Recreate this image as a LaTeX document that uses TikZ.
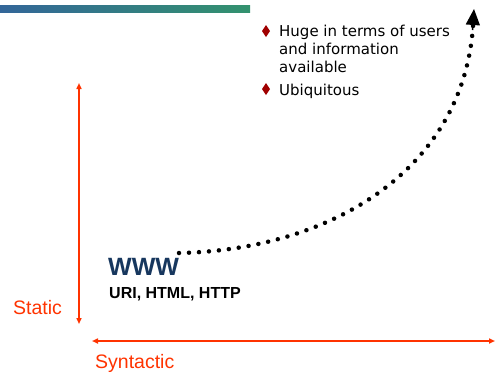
\documentclass[tikz,border=0pt]{standalone}
\usepackage{fontspec}
\setmainfont{Liberation Sans}
\newfontfamily\verd{DejaVu Sans}
\usetikzlibrary{arrows.meta}
\definecolor{axisred}{RGB}{255,51,0}
\definecolor{wwwblue}{RGB}{23,55,94}
\definecolor{bulletred}{RGB}{160,0,0}
\definecolor{barblue}{RGB}{51,102,153}
\definecolor{bargreen}{RGB}{51,146,110}
\tikzset{
  axisline/.style={draw=axisred, line width=1.5pt,
    {Triangle[length=6pt,width=5pt]}-{Triangle[length=6pt,width=5pt]}},
  axislabel/.style={anchor=base west, inner sep=0pt, text=axisred,
    font=\fontsize{19.5}{23}\selectfont},
  bullettext/.style={anchor=base west, inner sep=0pt,
    font=\verd\fontsize{15}{18}\selectfont},
  bulletmark/.style={fill=bulletred},
  dotpath/.style={line width=4.5pt, line cap=round, dash pattern=on 0pt off 10pt,
    shorten >=14pt},
  tiparrow/.style={line width=1.5pt, -{Triangle[length=16pt,width=14pt]}}
}
\begin{document}
\begin{tikzpicture}[x=1pt,y=-1pt]
\useasboundingbox (0,0) rectangle (496,373);

% title bar
\shade[left color=barblue, right color=bargreen] (0,5) rectangle (250,12);

% axes
\coordinate (vtop) at (79,83);
\coordinate (vbot) at (79,324);
\coordinate (hleft) at (92,341);
\coordinate (hright) at (495,341);
\draw[axisline] (vtop) -- (vbot);
\draw[axisline] (hleft) -- (hright);
\node[axislabel] (static) at (13,314) {Static};
\node[axislabel] (syntactic) at (95,368) {Syntactic};

% web labels
\node[anchor=base west, inner sep=0pt, text=wwwblue,
  font=\fontsize{25}{30}\selectfont\bfseries] (www) at (108,275.6) {WWW};
\node[anchor=base west, inner sep=0pt,
  font=\fontsize{16}{19}\selectfont\bfseries] (uri) at (109,298) {URI, HTML, HTTP};

% growth curve with a solid head
\coordinate (cstart) at (179,253);
\coordinate (ctip) at (474,9);
\coordinate (cneck) at (472.5,30);
\draw[dotpath] (cstart) .. controls (330,250) and (465,170) .. (ctip);
\draw[tiparrow] (cneck) -- (ctip);

% bullet list
\coordinate (d1) at (266,31);
\coordinate (d2) at (266,89);
\fill[bulletmark] (d1) ++(0,-6) -- ++(4,6) -- ++(-4,6) -- ++(-4,-6) -- cycle;
\fill[bulletmark] (d2) ++(0,-6) -- ++(4,6) -- ++(-4,6) -- ++(-4,-6) -- cycle;
\node[bullettext] (l1) at (279,36.7) {Huge in terms of users};
\node[bullettext] (l2) at (279,54.5) {and information};
\node[bullettext] (l3) at (279,72.5) {available};
\node[bullettext] (l4) at (279,95) {Ubiquitous};
\end{tikzpicture}
\end{document}
